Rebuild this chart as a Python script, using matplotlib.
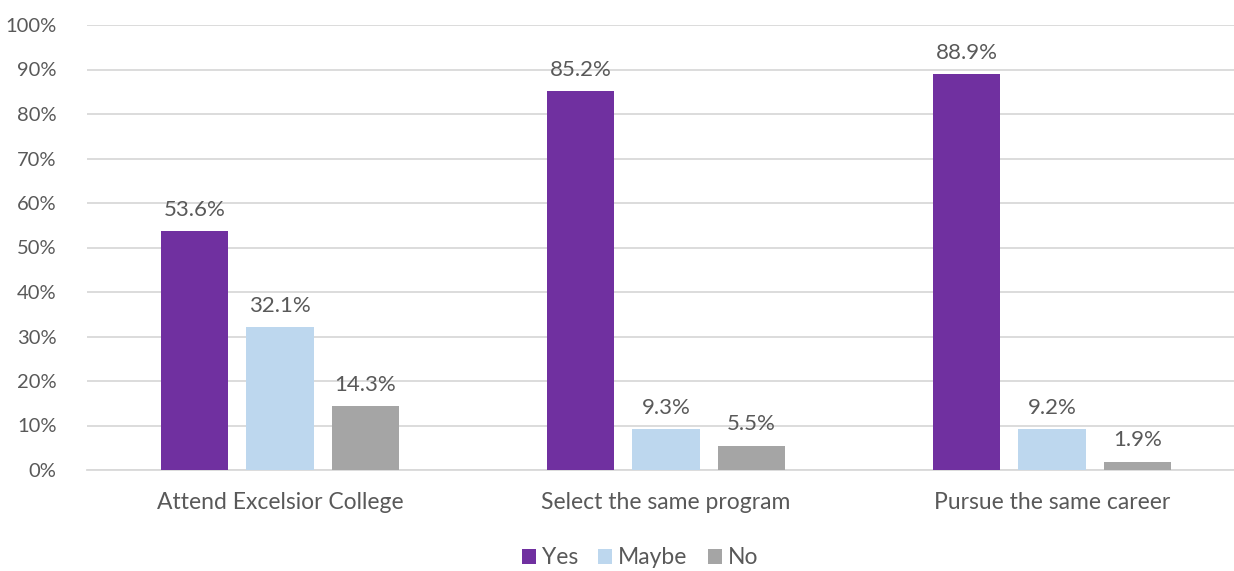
import matplotlib
matplotlib.use("Agg")
import matplotlib.pyplot as plt
import numpy as np

categories = ["Attend Excelsior College", "Select the same program", "Pursue the same career"]
series_names = ["Yes", "Maybe", "No"]
yes_vals = [53.6, 85.2, 88.9]
maybe_vals = [32.1, 9.3, 9.2]
no_vals = [14.3, 5.5, 1.9]
y_ticks = [0, 10, 20, 30, 40, 50, 60, 70, 80, 90, 100]

colors = ["#7030A0", "#BDD7EE", "#A5A5A5"]
text_color = "#595959"
plt.rcParams['font.family'] = ['Lato', 'DejaVu Sans']

W, H = 1234, 571
fig = plt.figure(figsize=(W / 100, H / 100), dpi=100)
left_px, right_px = 87, 1245
top_px, bottom_px = 25, 470
ax = fig.add_axes([left_px / W, (H - bottom_px) / H, (right_px - left_px) / W, (bottom_px - top_px) / H])

x = np.arange(len(categories))
offset = 0.2215
width = 0.174
series = [yes_vals, maybe_vals, no_vals]
for i, (name, vals) in enumerate(zip(series_names, series)):
    bars = ax.bar(x + (i - 1) * offset, vals, width, color=colors[i], label=name, zorder=3)
    for b, v in zip(bars, vals):
        ax.annotate(f"{v:.1f}%", (b.get_x() + b.get_width() / 2, v), xytext=(0, 8),
                    textcoords="offset points", ha="center", va="bottom",
                    fontsize=16, color=text_color)

ax.set_xlim(-0.5, 2.5)
ax.set_ylim(0, 100)
ax.set_yticks(y_ticks)
ax.set_yticklabels([f"{t}%" for t in y_ticks], fontsize=14.5)
ax.set_xticks(x)
ax.set_xticklabels(categories, fontsize=16.5)
ax.yaxis.grid(True, color="#D9D9D9", linewidth=1.3, zorder=0)
ax.set_axisbelow(True)
for s in ["top", "right", "left"]:
    ax.spines[s].set_visible(False)
ax.spines["bottom"].set_color("#D9D9D9")
ax.spines["bottom"].set_linewidth(1.3)
ax.tick_params(axis="both", length=0, colors=text_color)
ax.tick_params(axis="x", pad=16)
ax.tick_params(axis="y", pad=22)

fig.legend(loc="center", bbox_to_anchor=(640 / W, 1 - 558 / H), ncol=3, frameon=False,
           fontsize=16.5, labelcolor=text_color, handlelength=0.6, handleheight=0.6,
           handletextpad=0.25, columnspacing=0.9)

fig.savefig("out.png", dpi=100)
